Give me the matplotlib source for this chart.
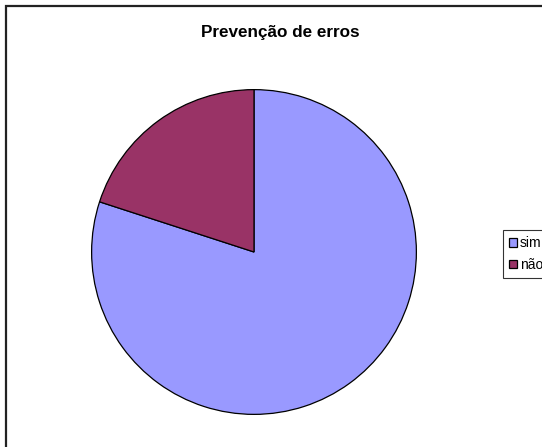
import matplotlib.pyplot as plt
from matplotlib.patches import Rectangle

plt.rcParams['font.family'] = ['Liberation Sans', 'DejaVu Sans']

labels = ['sim', 'não']
values = [80, 20]
colors = ['#9999FF', '#993366']
title = 'Prevenção de erros'

W, H = 542, 447
fig = plt.figure(figsize=(W / 100, H / 100), dpi=100)

# outer chart border (right and bottom edges fall outside the canvas)
fig.patches.append(Rectangle((6 / W, -0.1), 1.2, 1 - 6 / H + 0.1, transform=fig.transFigure,
                             fill=False, edgecolor='#222222', linewidth=1.6))

cx, cy, r = 254, 252, 164
ax = fig.add_axes([(cx - r) / W, (H - cy - r) / H, 2 * r / W, 2 * r / H])
wedges, _ = ax.pie(values, colors=colors, startangle=90, counterclock=False,
                   wedgeprops=dict(edgecolor='black', linewidth=0.9), radius=1)
ax.set_xlim(-1.01, 1.01)
ax.set_ylim(-1.01, 1.01)
ax.set_aspect('equal')
ax.axis('off')

fig.text(280 / W, 1 - 32 / H, title, ha='center', va='center', fontsize=12.3, fontweight='bold')

leg = fig.legend(wedges, labels, loc='upper left', bbox_to_anchor=(503 / W, 1 - 230 / H),
                 fontsize=10, frameon=True, fancybox=False, handlelength=0.55, handleheight=0.55,
                 handletextpad=0.2, labelspacing=0.55, borderpad=0.45, borderaxespad=0)
leg.get_frame().set_edgecolor('black')
leg.get_frame().set_linewidth(0.8)

fig.savefig('out.png', dpi=100)
